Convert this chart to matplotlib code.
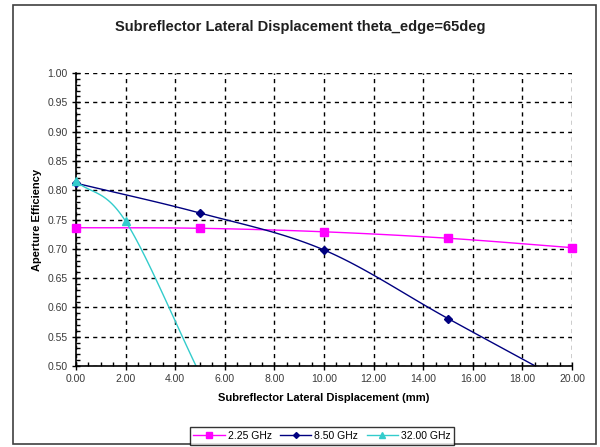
import numpy as np
import matplotlib
matplotlib.use("Agg")
import matplotlib.pyplot as plt
from matplotlib.patches import Rectangle
from matplotlib.ticker import MultipleLocator, FormatStrFormatter

# data
disp_mm = [0, 5, 10, 15, 20]
eff_225 = [0.736, 0.735, 0.729, 0.718, 0.702]
eff_850 = [0.812, 0.761, 0.698, 0.581, 0.466]
disp_32 = [0, 2, 5]
eff_32 = [0.815, 0.747, 0.486]

series_names = ["2.25 GHz", "8.50 GHz", "32.00 GHz"]


def smooth(x, y, n=30):
    """catmull-rom style smoothing like excel's smoothed lines"""
    x = np.asarray(x, float)
    y = np.asarray(y, float)
    px = np.concatenate([[2 * x[0] - x[1]], x, [2 * x[-1] - x[-2]]])
    py = np.concatenate([[2 * y[0] - y[1]], y, [2 * y[-1] - y[-2]]])
    xs, ys = [], []
    for i in range(1, len(px) - 2):
        t = np.linspace(0, 1, n)
        p0, p1, p2, p3 = (np.array([px[j], py[j]]) for j in range(i - 1, i + 3))
        c1 = p1 + (p2 - p0) / 6.0
        c2 = p2 - (p3 - p1) / 6.0
        pts = ((1 - t) ** 3)[:, None] * p1 + (3 * (1 - t) ** 2 * t)[:, None] * c1 \
            + (3 * (1 - t) * t ** 2)[:, None] * c2 + (t ** 3)[:, None] * p2
        xs.append(pts[:, 0])
        ys.append(pts[:, 1])
    return np.concatenate(xs), np.concatenate(ys)


plt.rcParams['font.family'] = ['Liberation Sans', 'DejaVu Sans']

fig = plt.figure(figsize=(6, 4.47), dpi=100)
fig.patches.append(Rectangle((13 / 600, 1 - 444 / 447), 583 / 600, 439 / 447,
                             transform=fig.transFigure, fill=False,
                             edgecolor='#404040', linewidth=1.2))

ax = fig.add_axes([76 / 600, 1 - 366 / 447, 496 / 600, 293 / 447])

styles = [
    dict(color='#FF00FF', marker='s', markersize=5.5),
    dict(color='#000080', marker='D', markersize=4.5),
    dict(color='#33CCCC', marker='^', markersize=5.5),
]
xs_list = [disp_mm, disp_mm, disp_32]
ys_list = [eff_225, eff_850, eff_32]
for xd, yd, name, st in zip(xs_list, ys_list, series_names, styles):
    sx, sy = smooth(xd, yd)
    ax.plot(sx, sy, color=st['color'], linewidth=1.0)
    # markers only where they fall inside the value range, drawn unclipped
    inside = [(a, b) for a, b in zip(xd, yd) if 0.5 <= b <= 1.0]
    ax.plot([p[0] for p in inside], [p[1] for p in inside], linestyle='none',
            marker=st['marker'], color=st['color'],
            markersize=st['markersize'], clip_on=False, zorder=4)
    # proxy for legend
    ax.plot([], [], color=st['color'], marker=st['marker'],
            markersize=st['markersize'] - 1.5, linewidth=1.0, label=name)

ax.set_xlim(0, 20)
ax.set_ylim(0.5, 1.0)
ax.xaxis.set_major_locator(MultipleLocator(2))
ax.xaxis.set_minor_locator(MultipleLocator(0.5))
ax.yaxis.set_major_locator(MultipleLocator(0.05))
ax.yaxis.set_minor_locator(MultipleLocator(0.01))
ax.xaxis.set_major_formatter(FormatStrFormatter('%.2f'))
ax.yaxis.set_major_formatter(FormatStrFormatter('%.2f'))
ax.tick_params(which='major', direction='inout', length=6, width=1,
               labelsize=7.5, colors='black', labelcolor='#3a3a3a', pad=3)
ax.tick_params(which='minor', direction='in', length=3, width=1)

ax.grid(True, which='major', color='black', linestyle=(0, (3, 3)), linewidth=1)
ax.spines['top'].set_visible(False)
ax.spines['right'].set_visible(False)
ax.spines['left'].set_linewidth(1.2)
ax.spines['bottom'].set_linewidth(1.2)
ax.set_axisbelow(True)

ax.set_xlabel('Subreflector Lateral Displacement (mm)', fontsize=8,
              fontweight='bold', labelpad=6)
ax.set_ylabel('Aperture Efficiency', fontsize=8, fontweight='bold', labelpad=4)

fig.text(0.5, 1 - 27 / 447, 'Subreflector Lateral Displacement theta_edge=65deg',
         ha='center', va='center', fontsize=10.5, fontweight='bold',
         color='#202020')

leg = fig.legend(loc='center', bbox_to_anchor=(322 / 600, 1 - 436 / 447),
                 ncol=3, fontsize=7.5, frameon=True, fancybox=False,
                 edgecolor='black', handlelength=3, columnspacing=0.8,
                 handletextpad=0.3, borderpad=0.35, borderaxespad=0)
leg.get_frame().set_linewidth(1)

fig.savefig('out.png', dpi=100)
